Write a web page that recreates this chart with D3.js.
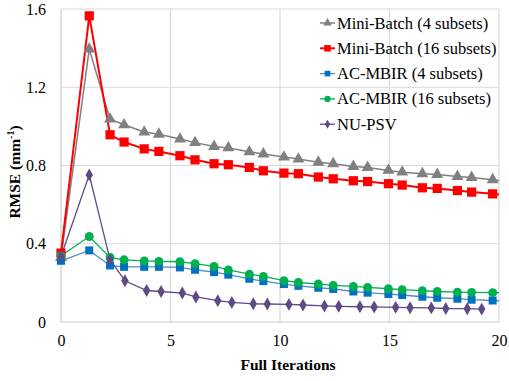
<!DOCTYPE html>
<html><head><meta charset="utf-8">
<script src="https://cdn.jsdelivr.net/npm/d3@7"></script>
<style>body{margin:0;background:#fff}svg{display:block}
.t{font-family:"Liberation Serif","Tinos","Noto Serif","DejaVu Serif","FreeSerif","Nimbus Roman","Nimbus Roman No9 L","Times New Roman","Times",serif}</style>
</head><body>
<svg id="c" width="509" height="381"></svg>
<script>
const xMain = [0, 1.29, 2.24, 2.88, 3.80, 4.47, 5.43, 6.12, 6.99, 7.64, 8.60, 9.24, 10.18, 10.84, 11.75, 12.43, 13.35, 14.0, 14.95, 15.58, 16.5, 17.18, 18.1, 18.75, 19.71, 20.35];
const xPsv = [0, 1.29, 2.24, 2.92, 3.91, 4.57, 5.54, 6.16, 7.16, 7.80, 8.78, 9.42, 10.41, 11.05, 12.03, 12.68, 13.65, 14.30, 15.28, 15.94, 16.91, 17.57, 18.55, 19.21];
const miniBatch4 = [0.33, 1.395, 1.037, 1.008, 0.971, 0.960, 0.935, 0.917, 0.897, 0.890, 0.870, 0.859, 0.843, 0.833, 0.817, 0.809, 0.795, 0.790, 0.775, 0.766, 0.758, 0.754, 0.744, 0.739, 0.727, 0.72];
const miniBatch16 = [0.352, 1.565, 0.957, 0.920, 0.885, 0.872, 0.850, 0.829, 0.809, 0.804, 0.790, 0.773, 0.761, 0.758, 0.741, 0.732, 0.722, 0.718, 0.707, 0.700, 0.686, 0.683, 0.672, 0.664, 0.655, 0.648];
const acmbir4 = [0.313, 0.366, 0.289, 0.282, 0.282, 0.282, 0.279, 0.267, 0.255, 0.242, 0.221, 0.209, 0.194, 0.185, 0.175, 0.169, 0.156, 0.150, 0.143, 0.138, 0.129, 0.124, 0.119, 0.114, 0.110, 0.107];
const acmbir16 = [0.339, 0.437, 0.330, 0.318, 0.312, 0.310, 0.308, 0.298, 0.284, 0.266, 0.245, 0.233, 0.211, 0.202, 0.194, 0.187, 0.182, 0.177, 0.170, 0.165, 0.160, 0.156, 0.153, 0.151, 0.150, 0.149];
const nupsv = [0.335, 0.752, 0.318, 0.211, 0.161, 0.156, 0.148, 0.128, 0.109, 0.100, 0.093, 0.092, 0.090, 0.087, 0.082, 0.080, 0.078, 0.077, 0.075, 0.073, 0.072, 0.069, 0.068, 0.066];
const xTicks = [0, 5, 10, 15, 20];
const yTicks = [0, 0.4, 0.8, 1.2, 1.6];
const yTickLabels = ["0", "0.4", "0.8", "1.2", "1.6"];

const series = [
  {name: "Mini-Batch (4 subsets)", xs: xMain, ys: miniBatch4, color: "#808080", line: "#808080", lw: 1.5, sym: d3.symbolTriangle, size: 62},
  {name: "Mini-Batch (16 subsets)", xs: xMain, ys: miniBatch16, color: "#ff0000", line: "#ff0000", lw: 2, sym: d3.symbolSquare, size: 85},
  {name: "AC-MBIR (4 subsets)", xs: xMain, ys: acmbir4, color: "#0070c0", line: "#5289c8", lw: 1.3, sym: d3.symbolSquare, size: 64},
  {name: "AC-MBIR (16 subsets)", xs: xMain, ys: acmbir16, color: "#00b050", line: "#00b050", lw: 1.3, sym: d3.symbolCircle, size: 62},
  {name: "NU-PSV", xs: xPsv, ys: nupsv, color: "#5f4a85", line: "#5f4a85", lw: 1.3, sym: d3.symbolDiamond, size: 48}
];

const svg = d3.select("#c");
const x = d3.scaleLinear().domain([0, 20]).range([61, 499]);
const y = d3.scaleLinear().domain([0, 1.6]).range([322, 9]);

// grid
svg.append("g").selectAll("line").data(yTicks).join("line")
  .attr("x1", x(0)).attr("x2", x(20)).attr("y1", d => y(d)).attr("y2", d => y(d))
  .attr("stroke", "#d9d9d9").attr("stroke-width", d => d === 0 ? 1.6 : 1.2);
svg.append("g").selectAll("line").data(xTicks).join("line")
  .attr("y1", y(0)).attr("y2", y(1.6)).attr("x1", d => x(d)).attr("x2", d => x(d))
  .attr("stroke", "#d9d9d9").attr("stroke-width", d => d === 0 ? 1.6 : 1.2);

// axes labels via d3 axes
const ax = svg.append("g").attr("transform", `translate(0,${y(0)})`)
  .call(d3.axisBottom(x).tickValues(xTicks).tickSize(0).tickPadding(13).tickFormat(d3.format("d")));
ax.select(".domain").remove();
ax.attr("font-family", null).attr("font-size", null);
ax.selectAll("text").attr("class", "t").style("font-size", "16px").attr("fill", "#000");
const ay = svg.append("g").attr("transform", `translate(${x(0)},0)`)
  .call(d3.axisLeft(y).tickValues(yTicks).tickSize(0).tickPadding(15).tickFormat((d, i) => yTickLabels[i]));
ay.select(".domain").remove();
ay.attr("font-family", null).attr("font-size", null);
ay.selectAll("text").attr("class", "t").style("font-size", "16px").attr("fill", "#000");

// titles
svg.append("text").attr("class", "t").attr("x", 288).attr("y", 370).attr("text-anchor", "middle")
  .style("font-size", "15.5px").attr("font-weight", "bold").text("Full Iterations");
const yt = svg.append("text").attr("class", "t").attr("transform", "translate(20,172) rotate(-90)").attr("text-anchor", "middle")
  .style("font-size", "15.5px").attr("font-weight", "bold");
yt.append("tspan").text("RMSE (mm");
yt.append("tspan").style("font-size", "10px").attr("dy", -6).text("-1");
yt.append("tspan").attr("dy", 6).text(")");

// clip
svg.append("clipPath").attr("id", "clip").append("rect")
  .attr("x", x(0) - 10).attr("y", 0).attr("width", x(20) - x(0) + 10).attr("height", 340);

const plot = svg.append("g").attr("clip-path", "url(#clip)");
series.forEach(s => {
  const pts = s.xs.map((v, i) => [v, s.ys[i]]);
  plot.append("path").datum(pts)
    .attr("fill", "none").attr("stroke", s.line).attr("stroke-width", s.lw)
    .attr("d", d3.line().x(d => x(d[0])).y(d => y(d[1])));
});
series.forEach(s => {
  const pts = s.xs.map((v, i) => [v, s.ys[i]]);
  plot.append("g").selectAll("path").data(pts).join("path")
    .attr("transform", d => `translate(${x(d[0])},${y(d[1])})`)
    .attr("d", d3.symbol().type(s.sym).size(s.size)).attr("fill", s.color);
});

// legend
const lg = svg.append("g");
series.forEach((s, i) => {
  const yy = 23 + i * 25.3;
  lg.append("line").attr("x1", 320).attr("x2", 335).attr("y1", yy).attr("y2", yy)
    .attr("stroke", s.line).attr("stroke-width", s.lw);
  lg.append("path").attr("transform", `translate(327.5,${yy})`)
    .attr("d", d3.symbol().type(s.sym).size(s.size * 0.5)).attr("fill", s.color);
  lg.append("text").attr("class", "t").attr("x", 337).attr("y", yy + 5.5)
    .style("font-size", "16.5px").attr("fill", "#000").text(s.name);
});
</script>
</body></html>
